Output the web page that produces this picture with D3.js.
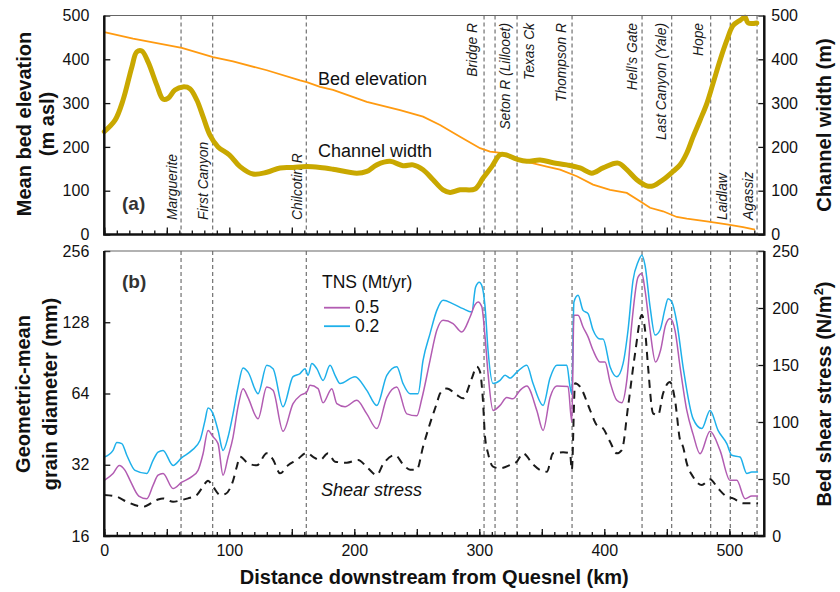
<!DOCTYPE html>
<html>
<head>
<meta charset="utf-8">
<script src="https://cdn.jsdelivr.net/npm/d3@7"></script>
<style>
  body { margin: 0; background: #fff; }
  svg { display: block; font-family: "Liberation Sans", Arial, Helvetica, sans-serif; }
</style>
</head>
<body>
<div id="chart"></div>
<script>
(function(){
  // data: [distance km, value]
  const channelWidth = [[0,235],[8.6,261],[15,307],[22,382],[26,417],[30,419],[35,394],[42,341],[47,309],[51,311],[56.5,330],[63,337],[68.5,333],[74,307],[79,269],[84.5,227],[91,200],[100,182],[108.6,155],[119,138],[130,142],[140.6,152],[151,153],[162,155],[172.6,153],[183,149],[202,140],[210,144],[218,159],[228.6,167],[239,157],[247,159],[255,148],[263,125],[271,102],[276.6,96],[284.6,102],[296.6,104],[303,129],[310,155],[316.6,182],[321,182],[330,172],[338,167],[348.6,170],[359,164],[370,159],[380.6,152],[390,140],[399,152],[411,163],[418,148],[426,125],[434,111],[439,111],[447,125],[455,144],[460.6,159],[466,186],[471,223],[476.6,261],[482,299],[487,345],[492.6,398],[498,443],[503,477],[508.6,489],[512.6,496],[515,483],[522,483]];

  const bedElevation = [[0,462],[23,447],[62,426],[87,405],[103,395],[130,375],[156.6,352],[162,348],[172.6,337],[183,330],[210,303],[236.6,284],[255,269],[268.6,250],[284.6,223],[300.6,197],[308.6,189],[319,186],[332.6,170],[354,155],[364.6,148],[378,133],[391,114],[404.6,102],[418,95],[428.6,76],[436.6,61],[447,53],[458,40],[466,36],[482,30],[498,23],[511,17],[520.6,11]];

  const grainTns05 = [[0,27.5],[7,29.4],[12,31.8],[16.6,30.3],[20.6,27.5],[27.6,23.6],[34,23],[39,26.2],[43,28.9],[47,29.4],[55,25.4],[62,27],[70,28.5],[75,30.3],[79,35.6],[83,44.7],[87,42],[91,39.3],[95,28.9],[99,34.5],[103,41.9],[107,56.3],[111,67.1],[115,61.5],[123,50.1],[130,68.2],[135,66],[143,44.3],[151,58],[157,62.9],[162,65],[164.6,69.3],[171,67.1],[175,58.5],[182,67.1],[186,58],[192.6,56.3],[202,59.9],[210,52.5],[218,45.5],[226,61.5],[234,68.2],[242,52.5],[250,51.5],[254,60.8],[260.6,88.4],[266,118.4],[271,130.5],[279,126.3],[286,116.4],[292.6,134.7],[296.6,152],[299,156],[302,149],[304.6,111],[307,77.7],[311,54.3],[316.6,57],[322,61.5],[327,60.8],[332.6,66],[338,68.8],[346,54.3],[351,44.7],[356.6,61.5],[362,68.8],[371,68.5],[374,48.5],[375.7,136.9],[379,137],[383,122.2],[387,111],[391,97.5],[396.6,86.9],[400.6,87],[404.6,71.5],[410,59.9],[414,58.5],[418,72.7],[422,126.3],[427,198.7],[430,205.5],[432.6,174.7],[436.6,118.4],[441,86.9],[445,97.5],[449,124.2],[452.6,132.6],[456.6,118],[460.6,83],[466,54.3],[471,43.1],[476.6,35.6],[484.6,44.3],[492.6,36.8],[500.6,27.5],[506,27.5],[512.6,23],[518,23.6],[523,23.6]];

  const grainTns02 = [[0,34.5],[7,36.8],[10,39.7],[14,39.3],[18,35.1],[24.6,30.3],[34,29.4],[39,33.4],[43,36.2],[47,36.8],[55,31.8],[62,34.3],[70,36.8],[76.6,40.6],[80.6,49.3],[83,55.6],[87,52.5],[91,44.7],[95,36.8],[99,41.9],[103,52.5],[107,68.2],[111,82],[115,78.8],[123,63.9],[130,84.2],[135,81.5],[143,56.3],[151,75.4],[156.6,77.7],[160.6,81.5],[163,76.4],[166,85.6],[170,81.5],[175,72.7],[180.6,84.2],[184.6,76.4],[188.6,70.5],[200.6,75.4],[210,66],[218,57],[226,76.4],[234,83.1],[239,70.5],[244.6,63.9],[251,63.9],[255,88.4],[260.6,114.6],[266,143.7],[271,158.4],[279,153.1],[287,146.1],[294,141.5],[297,180],[300,189],[302,183],[304.6,149],[307,97.5],[311,70.5],[316.6,72.7],[320.6,76.4],[324.6,74.4],[330,78.8],[338,84.2],[343,70.5],[351,57],[356.6,74.4],[362,84.2],[370,84.2],[372.6,68.2],[374,63.9],[375.7,156],[379,166.4],[383,143.7],[387,139.2],[391,118.7],[396.6,108.7],[399,108.7],[404.6,83.1],[410,75.4],[415,85.6],[419,118.7],[423,192.6],[427,230],[430,245.6],[432.6,222.8],[436.6,149],[440.6,113],[444.6,118.7],[448.6,146.1],[451,161],[454,156],[458,128],[463,83],[471,50.1],[478,45.5],[484.6,54.3],[491,44.7],[498,39.3],[502,35.1],[508.6,34.5],[514,29.4],[518,29.8],[523,29.8]];

  const shearStress = [[0,36],[10,34.5],[18,30],[31,25.7],[42,31.6],[47,33],[55,30],[62,31.6],[67,33],[74,36],[78,41.8],[83,48.5],[87,43.3],[92.6,36],[97,37],[103,48.5],[106,60.8],[108.6,69.5],[115,63.7],[122,62],[130,72.5],[135,67],[140.6,55],[147,62],[154,66.7],[162,73],[167,69.5],[172.6,66.7],[179,72.5],[184.6,65.2],[194,64.3],[203,66.7],[211,59.4],[218,53.5],[223,62.9],[232.6,71],[239,62.9],[244.6,58.2],[250,58.2],[255,78.3],[260.6,98.8],[266,116.4],[268.6,125],[274,129.4],[282,123.7],[287,120.8],[294,138.3],[298,148.5],[300.6,144],[302.7,122.2],[304.6,87],[307,72.5],[311,60.8],[316.6,59.4],[324.6,62.3],[330,65.2],[335,72.5],[343,62.9],[348.6,57.9],[354,56.4],[359,72.5],[367,73.4],[372.6,72.5],[374,58],[376.6,134],[380.6,131],[388.6,110.5],[394,97.3],[399,94.4],[404.6,82.7],[410,72.5],[414,75.4],[419,113.4],[424.6,160],[430,193.8],[432.6,180.7],[435,148.5],[439,107.6],[443,106],[447,125],[452.6,135],[456.6,119],[460.6,84],[463,78.3],[466,63.7],[471,52],[478,44.7],[484.6,49.7],[491,41.8],[498,34.5],[503,33],[511,28.7],[518,28.7],[523,28.7]];

  // tributaries / places marked with dashed lines
  const siteNames = ["Marguerite","First Canyon","Chilcotin R","Bridge R","Seton R (Lillooet)","Texas Ck","Thompson R","Hell\u2019s Gate","Last Canyon (Yale)","Hope","Laidlaw","Agassiz"];
  const siteKm = [61.4, 86.7, 161.6, 303.8, 312.6, 330.2, 374.2, 430.2, 453.9, 485.1, 500.8, 522.2];
  const sitesAtTop = ["Bridge R","Seton R (Lillooet)","Texas Ck","Thompson R","Hell\u2019s Gate","Last Canyon (Yale)","Hope"];
  // label baseline offset from its dashed line, px
  const labelShift = [-4.5, -4.5, -4.5, -7.5, 15, 16.5, -6.5, -5.5, -6, -7.5, -3.5, -4.5];

  const elevTicks = [0,100,200,300,400,500];
  const grainTicks = [16,32,64,128,256];
  const shearTicks = [0,50,100,150,200,250];
  const tnsLabels = ["0.5","0.2"];

  const width = 840, height = 592;
  const left = 104.3, right = 764.3;
  const aTop = 15.5, aBottom = 234.5;
  const bTop = 251, bBottom = 536;

  const svg = d3.select("#chart").append("svg")
      .attr("width", width).attr("height", height);

  const x = d3.scaleLinear().domain([0, 528]).range([left, right]);
  const yElev = d3.scaleLinear().domain([0, 500]).range([aBottom, aTop]);
  const yWidth = d3.scaleLinear().domain([0, 500]).range([aBottom, aTop]);
  const yGrain = d3.scaleLog().base(2).domain([16, 256]).range([bBottom, bTop]);
  const yShear = d3.scaleLinear().domain([0, 250]).range([bBottom, bTop]);

  // dashed site lines in both panels
  const siteG = svg.append("g");
  [[aTop, aBottom], [bTop, bBottom]].forEach(([t, b]) => {
    siteG.selectAll(null).data(siteKm).join("line")
      .attr("x1", d => x(d)).attr("x2", d => x(d))
      .attr("y1", t).attr("y2", b)
      .attr("stroke", "#707070").attr("stroke-width", 1.2)
      .attr("stroke-dasharray", "4,3");
  });

  // site labels, rotated
  siteG.selectAll("text").data(siteNames).join("text")
    .attr("transform", (d, i) => {
      const top = sitesAtTop.includes(d);
      return `translate(${x(siteKm[i]) + labelShift[i]},${top ? 23 : 220}) rotate(-90)`;
    })
    .attr("text-anchor", d => sitesAtTop.includes(d) ? "end" : "start")
    .attr("font-size", 13.8).attr("font-style", "italic").attr("fill", "#1a1a1a")
    .text(d => d);

  // ----- panel (a) -----
  svg.append("path").datum(bedElevation)
    .attr("fill", "none").attr("stroke", "#ff9a10").attr("stroke-width", 1.8)
    .attr("d", d3.line().x(d => x(d[0])).y(d => yElev(d[1])));

  svg.append("path").datum(channelWidth)
    .attr("fill", "none").attr("stroke", "#c9a800").attr("stroke-width", 5)
    .attr("stroke-linejoin", "round").attr("stroke-linecap", "round")
    .attr("d", d3.line().curve(d3.curveCatmullRom).x(d => x(d[0])).y(d => yWidth(d[1])));

  // ----- panel (b) -----
  const grainLine = d3.line().curve(d3.curveMonotoneX).x(d => x(d[0])).y(d => yGrain(d[1]));
  svg.append("path").datum(shearStress)
    .attr("fill", "none").attr("stroke", "#1a1a1a").attr("stroke-width", 2)
    .attr("stroke-dasharray", "8,6")
    .attr("d", d3.line().curve(d3.curveMonotoneX).x(d => x(d[0])).y(d => yShear(d[1])));
  svg.append("path").datum(grainTns02)
    .attr("fill", "none").attr("stroke", "#1eb0ea").attr("stroke-width", 1.5)
    .attr("d", grainLine);
  svg.append("path").datum(grainTns05)
    .attr("fill", "none").attr("stroke", "#b25cb2").attr("stroke-width", 1.5)
    .attr("d", grainLine);

  // ----- axes -----
  function styleAxis(g) {
    g.select(".domain").remove();
    g.selectAll("line").attr("stroke", "#111").attr("stroke-width", 1.3);
    g.selectAll("text").attr("font-size", 16).attr("fill", "#111")
      .attr("font-family", "'Liberation Sans', Arial, sans-serif");
  }

  [[aBottom, false], [bBottom, true]].forEach(([yb, labels]) => {
    svg.append("g").attr("transform", `translate(0,${yb})`)
      .call(d3.axisBottom(x).tickValues(d3.range(0, 530, 10)).tickSize(-4).tickFormat(""))
      .call(styleAxis);
    svg.append("g").attr("transform", `translate(0,${yb})`)
      .call(d3.axisBottom(x).tickValues(d3.range(0, 530, 50)).tickSize(-7).tickPadding(9)
        .tickFormat(d => labels && d % 100 === 0 ? d : ""))
      .call(styleAxis);
  });

  svg.append("g").attr("transform", `translate(${left},0)`)
    .call(d3.axisLeft(yElev).tickValues(elevTicks).tickSize(-6).tickPadding(15))
    .call(styleAxis);
  svg.append("g").attr("transform", `translate(${right},0)`)
    .call(d3.axisRight(yWidth).tickValues(elevTicks).tickSize(-6).tickPadding(7))
    .call(styleAxis);
  svg.append("g").attr("transform", `translate(${left},0)`)
    .call(d3.axisLeft(yGrain).tickValues(grainTicks).tickFormat(d3.format("d")).tickSize(-6).tickPadding(15))
    .call(styleAxis);
  svg.append("g").attr("transform", `translate(${right},0)`)
    .call(d3.axisRight(yShear).tickValues(shearTicks).tickSize(-6).tickPadding(8))
    .call(styleAxis);

  // frames
  [[aTop, aBottom], [bTop, bBottom]].forEach(([t, b]) => {
    svg.append("line").attr("x1", left).attr("x2", right).attr("y1", t).attr("y2", t)
      .attr("stroke", "#666").attr("stroke-width", 1.2);
    svg.append("path")
      .attr("d", `M${left},${t}V${b}H${right}V${t}`)
      .attr("fill", "none").attr("stroke", "#111").attr("stroke-width", 2.5);
  });

  // ----- text -----
  const txt = (s, xx, yy, opts = {}) => {
    const t = svg.append("text").attr("x", xx).attr("y", yy)
      .attr("font-size", opts.size || 18).attr("fill", "#111").text(s);
    if (opts.weight) t.attr("font-weight", opts.weight);
    if (opts.italic) t.attr("font-style", "italic");
    if (opts.anchor) t.attr("text-anchor", opts.anchor);
    return t;
  };
  txt("(a)", 122, 210, { size: 19, weight: "bold", }).attr("fill", "#333");
  txt("(b)", 122, 288, { size: 19, weight: "bold" }).attr("fill", "#333");
  txt("Bed elevation", 318, 85, { size: 18 });
  txt("Channel width", 318, 157, { size: 18 });
  txt("Shear stress", 321, 496, { size: 18, italic: true });

  // legend
  txt("TNS (Mt/yr)", 322, 288, { size: 17.5 });
  const legColors = ["#b25cb2", "#1eb0ea"];
  tnsLabels.forEach((lab, i) => {
    const ly = 307.7 + i * 18.5;
    svg.append("line").attr("x1", 324).attr("x2", 350).attr("y1", ly).attr("y2", ly)
      .attr("stroke", legColors[i]).attr("stroke-width", 1.8);
    txt(lab, 355, ly + 5.5, { size: 17.5 });
  });

  // axis titles
  const vtitle = (lines, cy) => {
    lines.forEach(([s, bx]) => {
      svg.append("text")
        .attr("transform", `translate(${bx},${cy}) rotate(-90)`)
        .attr("text-anchor", "middle").attr("font-size", 20).attr("font-weight", "bold")
        .attr("fill", "#111").text(s);
    });
  };
  vtitle([["Mean bed elevation", 31], ["(m asl)", 54]], 124);
  vtitle([["Channel width (m)", 831]], 125);
  vtitle([["Geometric-mean", 30], ["grain diameter (mm)", 57]], 394);

  const st = svg.append("text")
    .attr("transform", `translate(831,394) rotate(-90)`)
    .attr("text-anchor", "middle").attr("font-size", 20).attr("font-weight", "bold")
    .attr("fill", "#111");
  st.append("tspan").text("Bed shear stress (N/m");
  st.append("tspan").attr("font-size", 13).attr("dy", -8).text("2");
  st.append("tspan").attr("dy", 8).text(")");

  txt("Distance downstream from Quesnel (km)", (left + right) / 2, 584,
      { size: 20, weight: "bold", anchor: "middle" });
})();
</script>
</body>
</html>
